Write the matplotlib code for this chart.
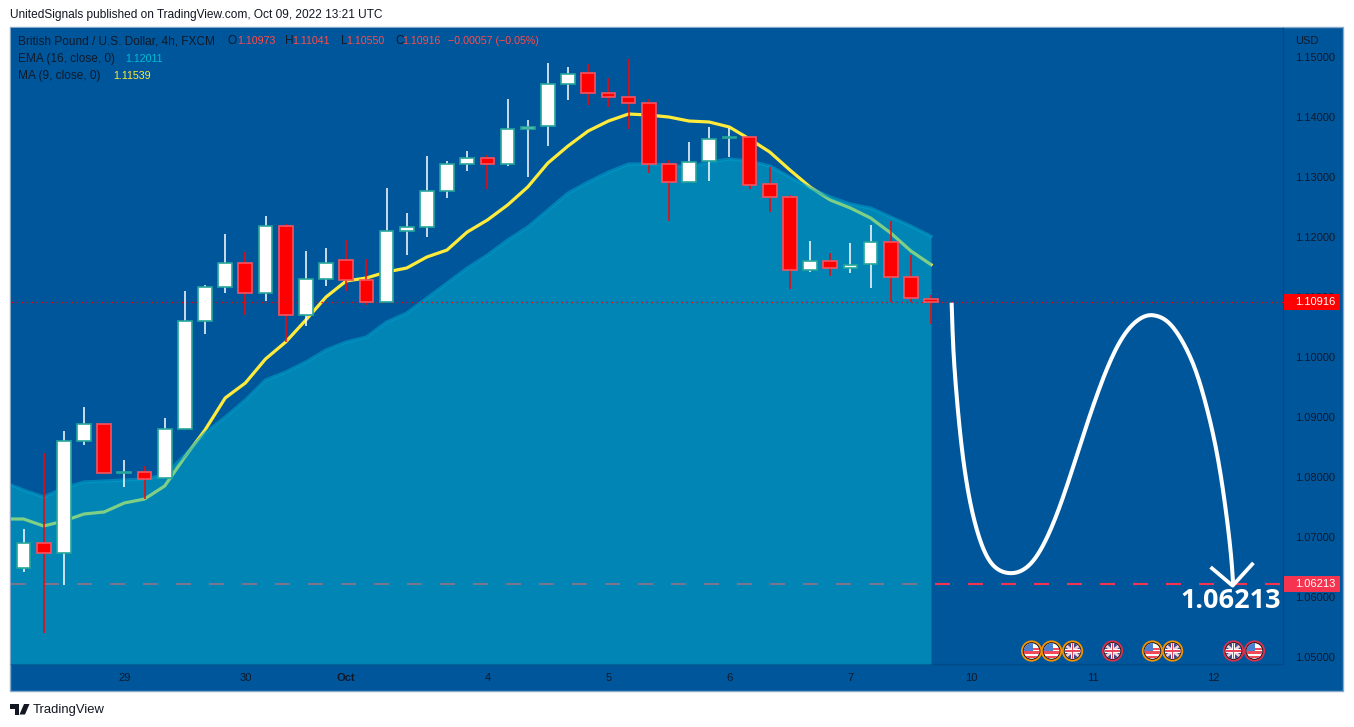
import numpy as np
import matplotlib
matplotlib.use("Agg")
import matplotlib.pyplot as plt
from matplotlib.patches import Rectangle, Circle, Polygon
from matplotlib.transforms import Affine2D

W, H = 1354, 727
plt.rcParams['font.family'] = ['Liberation Sans', 'DejaVu Sans']

# ---- data: 4h GBPUSD candles (first one is cut by the left edge) ----
bar_index = list(range(-1, 46))
opens = [1.06933,1.06483,1.06892,1.06733,1.08608,1.08883,1.08067,1.08083,1.07983,1.088,1.10592,1.11167,1.11567,1.11067,1.12183,1.107,1.113,1.11617,1.11283,1.10917,1.121,1.12167,1.12767,1.13217,1.13317,1.13217,1.138,1.1385,1.1455,1.14733,1.144,1.14333,1.14233,1.13217,1.12917,1.13267,1.1365,1.13667,1.12883,1.12667,1.1145,1.116,1.11483,1.1155,1.11917,1.11333,1.10973]
highs = [1.06933,1.07133,1.084,1.08767,1.09167,1.08883,1.08283,1.08183,1.08983,1.111,1.112,1.1205,1.1175,1.1235,1.12217,1.11767,1.11817,1.1195,1.11633,1.12817,1.124,1.1335,1.13267,1.13433,1.13367,1.143,1.1395,1.149,1.14833,1.14883,1.1465,1.14967,1.143,1.13283,1.13583,1.13833,1.13817,1.13683,1.13167,1.127,1.11933,1.11733,1.119,1.122,1.12267,1.117,1.11041]
lows = [1.06483,1.06417,1.054,1.062,1.08533,1.08067,1.07833,1.07633,1.07983,1.088,1.10383,1.11067,1.107,1.10933,1.1025,1.10517,1.11183,1.111,1.10867,1.10917,1.117,1.12,1.1265,1.131,1.128,1.13183,1.13,1.13517,1.14283,1.142,1.14167,1.138,1.13067,1.12267,1.12917,1.12933,1.13333,1.128,1.12417,1.11133,1.11417,1.1135,1.114,1.1115,1.10917,1.10917,1.1055]
closes = [1.06483,1.06892,1.06733,1.08608,1.08883,1.08067,1.08083,1.07967,1.088,1.10592,1.11167,1.11567,1.11067,1.12183,1.107,1.113,1.11567,1.11283,1.10917,1.121,1.12167,1.12767,1.13217,1.13317,1.13217,1.138,1.13833,1.1455,1.14717,1.144,1.14333,1.14233,1.13217,1.12917,1.1325,1.13633,1.13667,1.12867,1.12667,1.1145,1.116,1.11483,1.11533,1.11917,1.11333,1.10983,1.10916]
ma9 = [1.073,1.073,1.07183,1.07267,1.07383,1.07417,1.07567,1.07633,1.0785,1.08333,1.08783,1.09317,1.09567,1.09967,1.1025,1.10617,1.11,1.11267,1.11317,1.11417,1.11483,1.11667,1.11783,1.12083,1.12283,1.12533,1.12833,1.13233,1.13517,1.13767,1.13933,1.1405,1.14033,1.14,1.13933,1.13917,1.13833,1.13633,1.13417,1.13117,1.12833,1.12617,1.12483,1.12317,1.12067,1.11767,1.11539]
ema16 = [1.07917,1.07783,1.07667,1.07817,1.07917,1.07933,1.0795,1.07967,1.08033,1.08367,1.08733,1.09,1.09283,1.09617,1.0975,1.09917,1.10117,1.1025,1.10333,1.10583,1.10733,1.10983,1.11233,1.11483,1.117,1.1195,1.12167,1.1245,1.12733,1.12917,1.13083,1.13217,1.13217,1.132,1.13167,1.1325,1.133,1.13267,1.13183,1.13,1.12817,1.12667,1.1255,1.12483,1.12333,1.12183,1.12011]

last_price = 1.10916
target_price = 1.06213

# forecast drawing
fc_x = [46.02,46.10,46.27,46.51,46.84,47.26,47.75,48.31,49.04,49.74,50.40,51.14,51.89,52.63,53.37,54.12,54.86,55.52,56.01,56.68,57.34,58.00,58.53,59.13,59.57,59.87,59.98]
fc_y = [1.10905,1.10117,1.09338,1.08505,1.07733,1.07117,1.06672,1.0645,1.06388,1.06483,1.06755,1.07283,1.08005,1.08783,1.09505,1.10117,1.10505,1.10672,1.107,1.10617,1.10338,1.09895,1.09338,1.08505,1.07567,1.06733,1.062]
head_x = [58.93,59.95,60.92]
head_y = [1.06478,1.06188,1.06545]

# axes labels
y_ticks = [1.05,1.06,1.07,1.08,1.09,1.10,1.11,1.12,1.13,1.14,1.15]
x_ticks = [5,11,16,23,29,35,41,47,53,59]
x_labels = ['29','30','Oct','4','5','6','7','10','11','12']

# event flags
flag_pos = [49.98,50.97,52.01,53.99,55.97,56.97,59.99,61.03]
flag_kind = ['US','US','UK','UK','US','UK','UK','US']
flag_ring = ['#f59300','#f59300','#f59300','#e0304a','#f59300','#f59300','#e0304a','#e0304a']

BG = '#00569b'
DARK = '#101a2a'
RED = '#ff0000'
TGT = '#f7344f'
TEAL = '#26a69a'
FS = 8.0
LS = 8.6
VS = 7.7

fig = plt.figure(figsize=(W/100, H/100), dpi=100, facecolor='white')

def fx(x): return x/W
def fy(y): return 1-y/H
def ptext(x, y, s, color=DARK, ha='left', size=LS, **kw):
    return fig.text(fx(x), fy(y), s, color=color, ha=ha, va='center', fontsize=size, **kw)

# panel behind everything
fig.add_artist(Rectangle((fx(10), fy(691)), 1333/W, 664/H, transform=fig.transFigure,
                         facecolor=BG, edgecolor='#86a9c9', lw=1.0, zorder=-5))

ax = fig.add_axes([fx(10.5), fy(664), (1283-10.5)/W, (664-27.5)/H])
ax.set_facecolor(BG)
ax.set_xlim(-0.645, 62.45)
ax.set_ylim(1.04883, 1.15492)
for s in ['top','left']:
    ax.spines[s].set_visible(False)
ax.spines['right'].set_color('#004a87'); ax.spines['bottom'].set_color('#004a87')
ax.spines['right'].set_linewidth(1); ax.spines['bottom'].set_linewidth(1)
ax.yaxis.tick_right()
ax.set_yticks(y_ticks)
ax.set_yticklabels([f'{v:.5f}' for v in y_ticks], color=DARK, fontsize=FS, ha='left')
ax.set_xticks(x_ticks)
ax.set_xticklabels(x_labels, color=DARK, fontsize=FS)
ax.get_xticklabels()[2].set_fontweight('bold')
ax.tick_params(axis='y', length=0, pad=8.5)
ax.tick_params(axis='x', length=0, pad=6.5)

xs = np.array(bar_index, dtype=float)
o, h, l, c = map(np.array, (opens, highs, lows, closes))
up = c >= o

# layers
ax.plot(xs, ma9, color='#ffeb3b', lw=2.3, zorder=2, solid_joinstyle='round')
ax.plot([-0.645, 62.45], [target_price]*2, color=TGT, lw=1.5, dashes=(7.2, 8.64), zorder=2)
ax.fill_between(xs, 1.04883, ema16, color='#00b4d0', alpha=0.5, lw=0, zorder=3)
ax.plot(xs, ema16, color='#00a5cc', alpha=0.55, lw=2.3, zorder=3.1)
ax.plot([-0.645, 62.45], [last_price]*2, color=RED, lw=1.0, dashes=(1, 2.6), zorder=3.5)

ax.vlines(xs[up], l[up], h[up], color='white', lw=1.1, zorder=4)
ax.vlines(xs[~up], l[~up], h[~up], color=RED, lw=1.1, zorder=4)
bodyw = 0.68
ax.bar(xs[up], (c-o)[up], bottom=o[up], width=bodyw, color='white', edgecolor=TEAL, lw=1.2, zorder=5)
ax.bar(xs[~up], (c-o)[~up], bottom=o[~up], width=bodyw, color=RED, edgecolor='#f7525f', lw=1.2, zorder=5)

# forecast curve, smoothed (Catmull-Rom, then a light moving average)
P = np.column_stack([fc_x, fc_y])
P = np.vstack([2*P[0]-P[1], P, 2*P[-1]-P[-2]])
pts = []
for i in range(1, len(P)-2):
    t = np.linspace(0, 1, 12, endpoint=False)[:, None]
    a = (2*P[i] + (P[i+1]-P[i-1])*t + (2*P[i-1]-5*P[i]+4*P[i+1]-P[i+2])*t**2
         + (3*P[i]-P[i-1]-3*P[i+1]+P[i+2])*t**3) / 2
    pts.append(a)
pts.append(P[-2][None, :])
pts = np.vstack(pts)
k = 15
pad = np.vstack([2*pts[0]-pts[k:0:-1], pts, 2*pts[-1]-pts[-2:-k-2:-1]])
kern = np.ones(k)/k
sm = np.column_stack([np.convolve(pad[:, j], kern, mode='same') for j in (0, 1)])[k:-k]
ax.plot(sm[:, 0], sm[:, 1], color='white', lw=2.9, zorder=6, solid_capstyle='butt')
ax.plot(head_x, head_y, color='white', lw=2.7, zorder=6, solid_joinstyle='round')

# price labels
def price_label(price, bg):
    ypx = 57 + 6000*(1.15-price)
    fig.add_artist(Rectangle((fx(1283.5), fy(ypx+8)), 56.5/W, 16/H, transform=fig.transFigure,
                             facecolor=bg, edgecolor='none', zorder=5))
    fig.text(fx(1295), fy(ypx), f'{price:.5f}', color='white', va='center', ha='left', fontsize=FS, zorder=6)
price_label(last_price, RED)
price_label(target_price, TGT)
fig.text(fx(1231), fy(601), f'{target_price:.5f}', color='white', ha='center', va='center',
         fontsize=19.5, fontweight='bold', family='Open Sans', zorder=7)

# legend text
ptext(10, 15, 'UnitedSignals published on TradingView.com, Oct 09, 2022 13:21 UTC', color='#131722')
ptext(18, 41.5, 'British Pound / U.S. Dollar, 4h, FXCM')
for x, lab, x2, val in [(228,'O',237,'1.10973'),(285,'H',292,'1.11041'),(341,'L',346,'1.10550'),(395,'C',402,'1.10916')]:
    ptext(x, 41.5, lab)
    ptext(x2, 41.5, val, color='#ff4a4a', size=VS)
ptext(448, 41.5, '−0.00057 (−0.05%)', color='#ff4a4a', size=VS)
ptext(18, 59, 'EMA (16, close, 0)')
ptext(125, 59, '1.12011', color='#00bcd4', size=VS)
ptext(18, 76, 'MA (9, close, 0)')
ptext(113, 76, '1.11539', color='#ffeb3b', size=VS)
ptext(1295, 41, 'USD', size=FS)

# flags
def flag(xb, kind, ring):
    px = 23.5 + 20.17*xb
    r = 11.0
    a = fig.add_axes([fx(px-r), fy(651+r), 2*r/W, 2*r/H], zorder=8)
    a.set_xlim(-r, r); a.set_ylim(-r, r); a.axis('off')
    a.add_patch(Circle((0,0), 10.6, fc=ring, ec='none'))
    a.add_patch(Circle((0,0), 8.8, fc='#131722', ec='none'))
    clip = Circle((0,0), 7.8, fc='white', ec='none')
    a.add_patch(clip)
    items = []
    if kind == 'US':
        for yy in [-7,-2.6]:
            items.append(Rectangle((-8, yy), 16, 2.4, fc='#ef4a5a', ec='none'))
        items.append(Rectangle((-8, 1.5), 16, 1.6, fc='#ef4a5a', ec='none'))
        items.append(Rectangle((-8, 0), 9, 8, fc='#4a7fd0', ec='none'))
    else:
        items.append(Rectangle((-8, -8), 16, 16, fc='#3a4a8c', ec='none'))
        for ang in (40, -40):
            items.append(Rectangle((-12, -1.4), 24, 2.8, fc='#f0d0d8', ec='none',
                                   transform=Affine2D().rotate_deg(ang)+a.transData))
        items.append(Rectangle((-8, -1.8), 16, 3.6, fc='white', ec='none'))
        items.append(Rectangle((-1.8, -8), 3.6, 16, fc='white', ec='none'))
        items.append(Rectangle((-8, -0.9), 16, 1.8, fc='#e8455a', ec='none'))
        items.append(Rectangle((-0.9, -8), 1.8, 16, fc='#e8455a', ec='none'))
    for it in items:
        a.add_patch(it)
        it.set_clip_path(clip)
for xb, k_, rc in zip(flag_pos, flag_kind, flag_ring):
    flag(xb, k_, rc)

# TradingView logo
def pix_poly(pts, col='#131722'):
    fig.add_artist(Polygon([(fx(x), fy(y)) for x, y in pts], closed=True, transform=fig.transFigure,
                           facecolor=col, edgecolor='none'))
pix_poly([(10,704),(19,704),(19,714.5),(14.5,714.5),(14.5,708.5),(10,708.5)])
pix_poly([(24,704),(29.5,704),(25,714.5),(19.5,714.5)])
ptext(33, 709.5, 'TradingView', color='#131722', size=9.4)

fig.savefig('out.png', dpi=100)
